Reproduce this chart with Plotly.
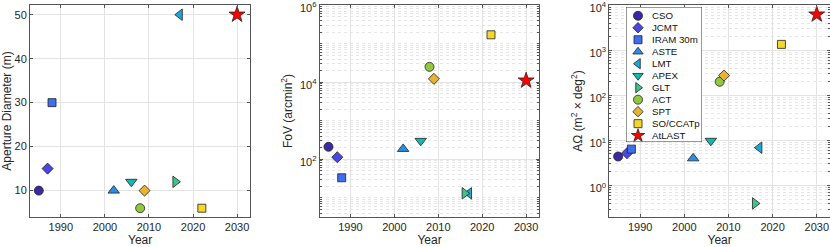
import numpy as np
import plotly.graph_objects as go

# ---------------- data ----------------
names = ["CSO", "JCMT", "IRAM 30m", "ASTE", "LMT", "APEX", "GLT", "ACT", "SPT", "SO/CCATp", "AtLAST"]
years = [1985, 1987, 1988, 2002, 2017, 2006, 2016, 2008, 2009, 2022, 2030]
aperture_m = [10, 15, 30, 10, 50, 12, 12, 6, 10, 6, 50]
fov_arcmin2 = [210, 113, 33, 185, 13, 300, 13, 25000, 12200, 170000, 11000]
a_omega = [4.4, 5.2, 6.4, 4.0, 6.9, 9.8, 0.4, 200, 275, 1350, 6200]

symbols = ["circle", "diamond", "square", "triangle-up", "triangle-left", "triangle-down",
           "triangle-right", "circle", "diamond", "square", "star"]
sizes = [9, 8.5, 8, 10, 10, 10, 10, 9, 8.5, 8, 12]
legend_sizes = [9, 8, 8, 9, 9, 9, 9, 9, 8, 8, 10]
colors = ["#3b28a4", "#4a48e4", "#3d6ef0", "#2b8fe8", "#1ba8d6", "#13b8b0",
          "#3cc48a", "#92c840", "#e8b232", "#f6d626", "#ff0000"]

x_ticks = [1990, 2000, 2010, 2020, 2030]
y1_ticks = [10, 20, 30, 40, 50]

W, H = 830, 247
ML, MR, MT, MB = 0, 0, 5, 30
PH = H - MT - MB

def fx(px):
    return px / W

def fy(px):
    return 1 - (px - MT) / PH

FONT = "Liberation Sans, Arial, Helvetica, sans-serif"
TXT = "#262626"
GRID = "#e3e3e3"
TICKF = dict(family=FONT, size=11, color=TXT)
TITLEF = dict(family=FONT, size=12, color=TXT)

fig = go.Figure()

panels = [("x", "y", aperture_m), ("x2", "y2", fov_arcmin2), ("x3", "y3", a_omega)]
for p, (xa, ya, vals) in enumerate(panels):
    for i, n in enumerate(names):
        fig.add_trace(go.Scatter(
            x=[years[i]], y=[vals[i]], xaxis=xa, yaxis=ya,
            mode="markers", name=n, showlegend=False,
            marker=dict(symbol=symbols[i], size=sizes[i], color=colors[i],
                        line=dict(color="#222222", width=0.8)),
        ))

# ---- legend drawn on its own hidden axes (one row per name) ----
leg_rows = [i + 0.5 for i in range(len(names))]
for i, n in enumerate(names):
    fig.add_trace(go.Scatter(
        x=[0.158], y=[leg_rows[i]], xaxis="x4", yaxis="y4",
        mode="markers", showlegend=False, hoverinfo="skip",
        marker=dict(symbol=symbols[i], size=legend_sizes[i], color=colors[i],
                    line=dict(color="#222222", width=0.8)),
    ))
    fig.add_annotation(x=0.316, y=leg_rows[i], xref="x4", yref="y4", text=n,
                       showarrow=False, xanchor="left", yanchor="middle",
                       font=dict(family=FONT, size=9.7, color="#111111"))

fig.add_shape(type="rect", xref="x4", yref="y4", x0=0, x1=1, y0=-0.23, y1=11.03,
              fillcolor="white", line=dict(color="#333333", width=1), layer="between")

axis_common = dict(
    showline=True, linecolor="#555555", linewidth=1, mirror="ticks",
    ticks="inside", ticklen=3, tickcolor="#555555",
    showgrid=True, gridcolor=GRID, gridwidth=1, zeroline=False,
    tickfont=TICKF, automargin=False, ticklabeloverflow="allow",
)

xdoms = [(fx(30), fx(250.3)), (fx(319.7), fx(539.3)), (fx(609.3), 1.0)]

def log_minor(lo, hi, majors):
    vals = []
    for d in range(int(np.floor(lo)), int(np.ceil(hi)) + 1):
        for m in range(1, 10):
            v = m * 10.0 ** d
            if v in majors:
                continue
            vals.append(v)
    return vals

layout = dict(
    width=W, height=H,
    margin=dict(l=ML, r=MR, t=MT, b=MB),
    paper_bgcolor="white", plot_bgcolor="white",
    font=dict(family=FONT, size=10, color=TXT),
    showlegend=False,
)

for k in range(3):
    sx = "" if k == 0 else str(k + 1)
    layout["xaxis" + sx] = dict(
        axis_common, domain=list(xdoms[k]), range=[1983, 2033],
        tickvals=x_ticks, anchor="y" + sx,
        title=dict(text="Year", font=TITLEF, standoff=2),
    )

layout["yaxis"] = dict(
    axis_common, domain=[0, 1], range=[4, 52.2], tickvals=y1_ticks, anchor="x",
    title=dict(text="Aperture Diameter (m)", font=TITLEF, standoff=5),
)

maj2 = [1e2, 1e4, 1e6]
layout["yaxis2"] = dict(
    axis_common, domain=[0, 1], type="log", range=[0.5, 6.004], anchor="x2",
    tickvals=maj2, ticktext=["10<sup>2</sup>", "10<sup>4</sup>", "10<sup>6</sup>"],
    ticklabelshift=3,
    minor=dict(tickvals=log_minor(0, 6, maj2), ticks="inside", ticklen=2, tickcolor="#555555",
               showgrid=True, gridcolor="#e6e6e6", griddash="dot", gridwidth=1),
    title=dict(text="FoV (arcmin<sup>2</sup>)", font=TITLEF, standoff=4),
)

maj3 = [1e0, 1e1, 1e2, 1e3, 1e4]
layout["yaxis3"] = dict(
    axis_common, domain=[0, 1], type="log", range=[np.log10(0.2), 4.004], anchor="x3",
    tickvals=maj3, ticktext=["10<sup>0</sup>", "10<sup>1</sup>", "10<sup>2</sup>", "10<sup>3</sup>", "10<sup>4</sup>"],
    ticklabelshift=3,
    minor=dict(tickvals=log_minor(-1, 4, maj3), ticks="inside", ticklen=2, tickcolor="#555555",
               showgrid=True, gridcolor="#e6e6e6", griddash="dot", gridwidth=1),
    title=dict(text="AΩ (m<sup>2</sup> × deg<sup>2</sup>)", font=TITLEF, standoff=4),
)

layout["xaxis4"] = dict(domain=[fx(626), fx(702)], range=[0, 1], visible=False,
                        fixedrange=True, anchor="y4")
layout["yaxis4"] = dict(domain=[fy(142), fy(7)], range=[11.03, -0.23], visible=False,
                        fixedrange=True, anchor="x4")

fig.update_layout(**layout)
fig.write_html("out.html", config={"displayModeBar": False},
               post_script="document.body.style.margin='0';")
